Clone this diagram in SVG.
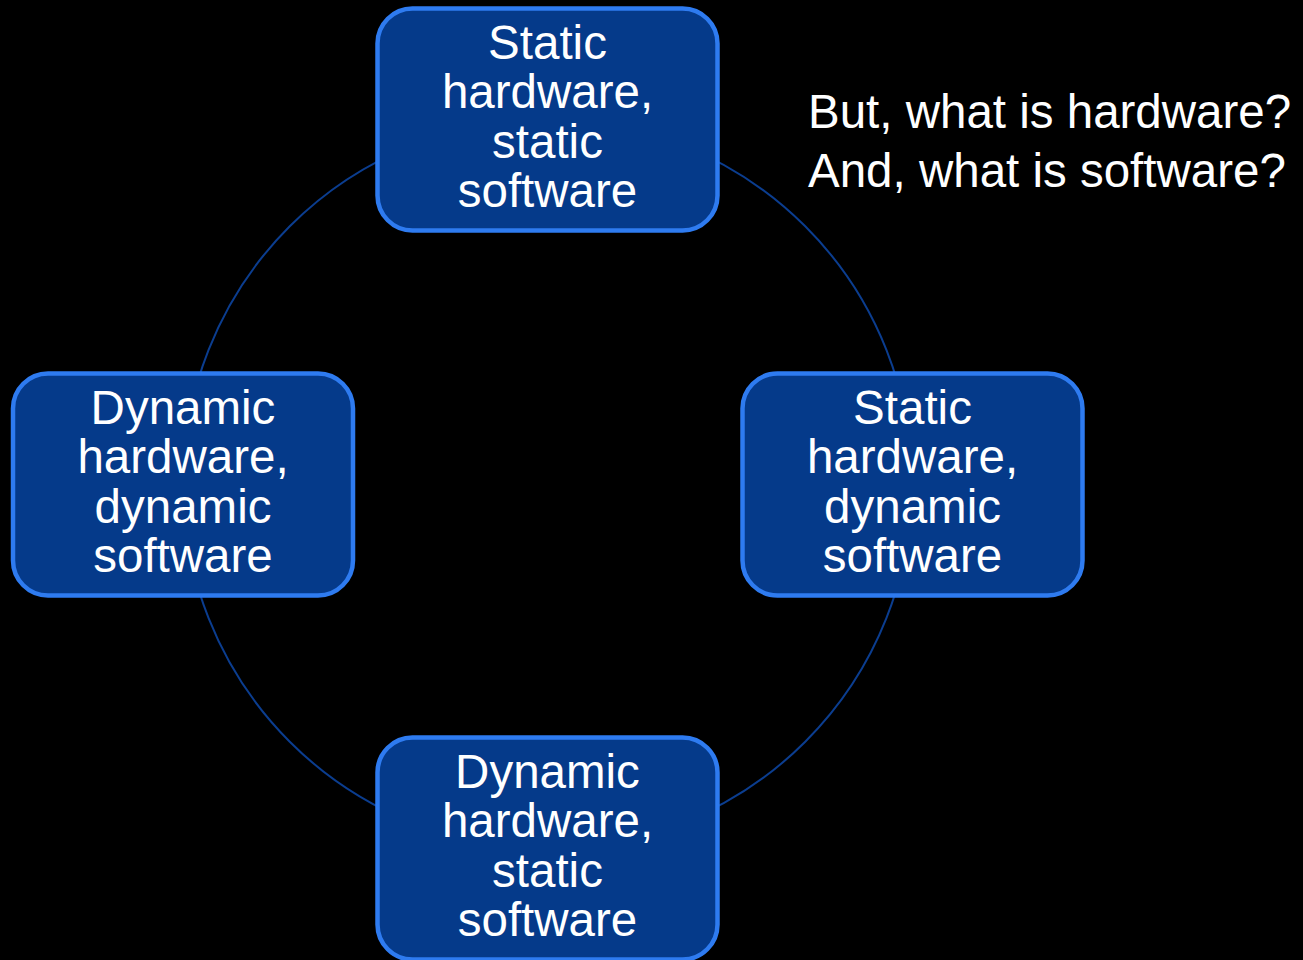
<svg xmlns="http://www.w3.org/2000/svg" width="1303" height="960" viewBox="0 0 1303 960">
<style>
.node rect{fill:#053a8a;stroke:#2e7bf0;stroke-width:4.5}
.node text,.note{font-family:"Liberation Sans",Arial,sans-serif;font-size:47.5px;fill:#ffffff}
.node text{text-anchor:middle}
.ring{fill:none;stroke:#0b3d8f;stroke-width:2}
</style>
<rect x="0" y="0" width="1303" height="960" fill="#000000"/>
<g id="connectors">
<circle class="ring" cx="547.5" cy="484" r="364.5"/>
</g>
<g id="node-top" class="node">
<rect x="377.5" y="8.5" width="340" height="222" rx="35" ry="35"/>
<text x="547.5" y="58.5">Static</text>
<text x="547.5" y="108">hardware,</text>
<text x="547.5" y="157.5">static</text>
<text x="547.5" y="207">software</text>
</g>
<g id="node-left" class="node">
<rect x="13" y="373.5" width="340" height="222" rx="35" ry="35"/>
<text x="183" y="423.5">Dynamic</text>
<text x="183" y="473">hardware,</text>
<text x="183" y="522.5">dynamic</text>
<text x="183" y="572">software</text>
</g>
<g id="node-right" class="node">
<rect x="742.5" y="373.5" width="340" height="222" rx="35" ry="35"/>
<text x="912.5" y="423.5">Static</text>
<text x="912.5" y="473">hardware,</text>
<text x="912.5" y="522.5">dynamic</text>
<text x="912.5" y="572">software</text>
</g>
<g id="node-bottom" class="node">
<rect x="377.5" y="737.5" width="340" height="222" rx="35" ry="35"/>
<text x="547.5" y="787.5">Dynamic</text>
<text x="547.5" y="837">hardware,</text>
<text x="547.5" y="886.5">static</text>
<text x="547.5" y="936">software</text>
</g>
<g id="question">
<text class="note" x="808" y="128">But, what is hardware?</text>
<text class="note" x="808" y="187">And, what is software?</text>
</g>
</svg>
